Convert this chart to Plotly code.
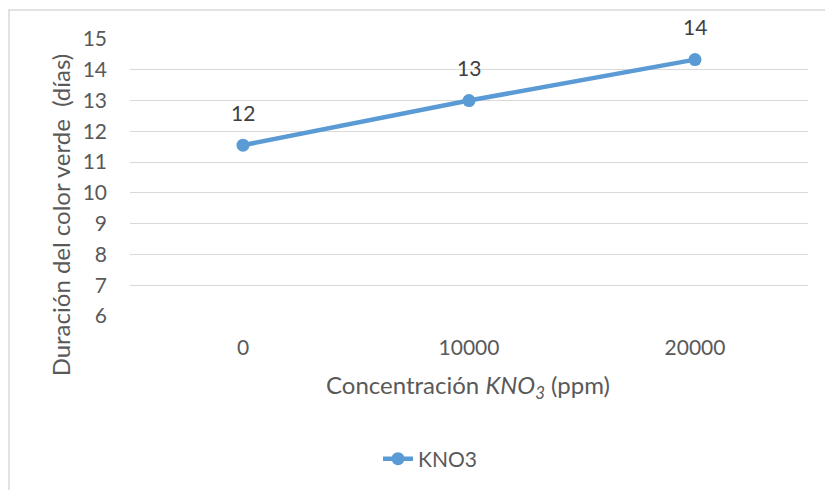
import plotly.graph_objects as go

# Concentración de KNO3 (ppm) y duración del color verde (días)
concentraciones = ["0", "10000", "20000"]
duracion_dias = [11.55, 13.0, 14.33]
y_ticks = [6, 7, 8, 9, 10, 11, 12, 13, 14, 15]

W, H = 825, 490
L, R, T, B = 130, 17, 39, 173
pw, ph = W - L - R, H - T - B

def px_x(p):
    return (p - L) / pw

def px_y(p):
    return (H - B - p) / ph

FONT = "Lato, 'Open Sans', sans-serif"
AZUL = "#5B9BD5"
GRIS = "#595959"

fig = go.Figure()
fig.add_trace(go.Scatter(
    x=concentraciones,
    y=duracion_dias,
    mode="lines+markers",
    name="KNO3",
    line=dict(color=AZUL, width=4.5),
    marker=dict(color=AZUL, size=13),
    cliponaxis=False,
))

# Etiquetas de datos (valor redondeado) sobre cada punto;
# en un eje de categorías se ubican por índice de categoría
etiquetas = [
    dict(
        x=i, y=v, xref="x", yref="y",
        text=f"{v:.0f}", showarrow=False,
        yshift=33, yanchor="middle",
        font=dict(family=FONT, size=21, color="#404040"),
    )
    for i, v in enumerate(duracion_dias)
]

fig.update_layout(
    width=W, height=H,
    margin=dict(l=L, r=R, t=T, b=B),
    paper_bgcolor="white",
    plot_bgcolor="white",
    font=dict(family=FONT, color=GRIS),
    showlegend=True,
    legend=dict(
        orientation="h",
        x=px_x(378), xanchor="left",
        y=px_y(459), yanchor="middle",
        font=dict(family=FONT, size=21, color=GRIS),
    ),
    xaxis=dict(
        type="category",
        range=[-0.5, 2.5],
        showgrid=False,
        zeroline=False,
        showline=False,
        tickfont=dict(family=FONT, size=21, color=GRIS),
        ticklabelstandoff=17,
    ),
    yaxis=dict(
        range=[6, 15],
        tickvals=y_ticks,
        showgrid=True,
        gridcolor="#d9d9d9",
        gridwidth=1.2,
        zeroline=False,
        showline=False,
        tickfont=dict(family=FONT, size=21, color=GRIS),
        ticklabelstandoff=22,
    ),
    annotations=etiquetas + [
        dict(
            text="Duración del color verde \u00a0(días)",
            xref="paper", yref="paper",
            x=px_x(60), y=px_y(216),
            xanchor="center", yanchor="middle",
            textangle=-90, showarrow=False,
            font=dict(family=FONT, size=24, color=GRIS),
        ),
        dict(
            text="Concentración <i>KNO<sub>3</sub></i> (ppm)",
            xref="paper", yref="paper",
            x=px_x(468), y=px_y(388),
            xanchor="center", yanchor="middle",
            showarrow=False,
            font=dict(family=FONT, size=24, color=GRIS),
        ),
    ],
    shapes=[
        dict(
            type="rect", xref="paper", yref="paper",
            x0=px_x(9), x1=px_x(W + 20),
            y0=px_y(H + 20), y1=px_y(10),
            line=dict(color="#d9d9d9", width=1.5),
            fillcolor="rgba(0,0,0,0)",
            layer="below",
        ),
    ],
)

fig.write_html("out.html")
